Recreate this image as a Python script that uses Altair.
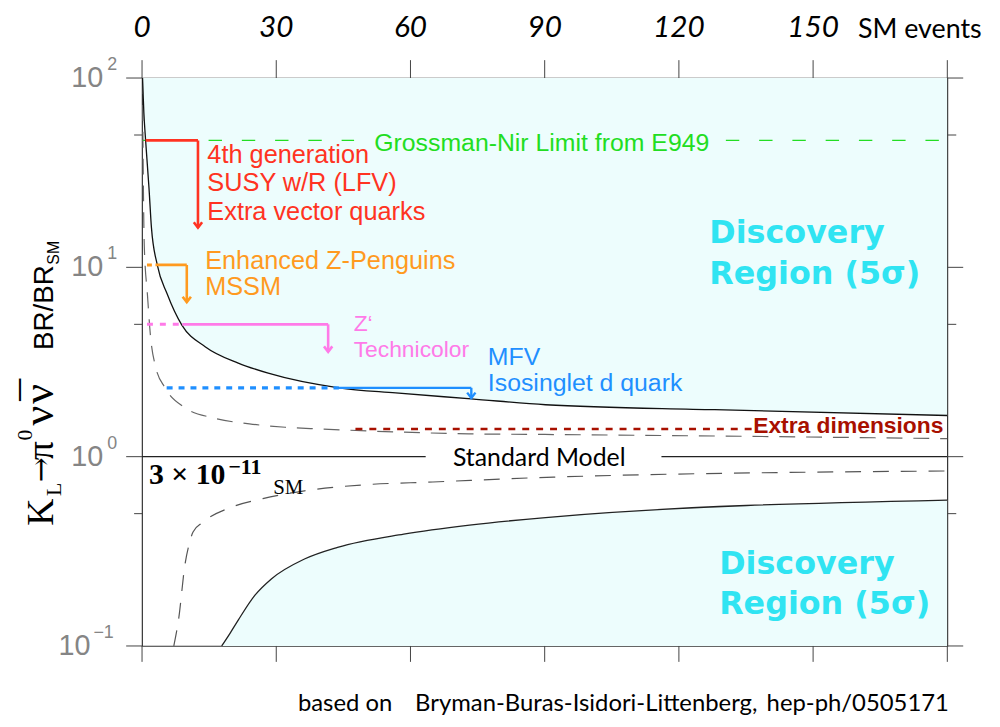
import altair as alt
import pandas as pd

# ---------------- data ----------------
# x: number of SM events, y: BR / BR_SM (log)
upper_n = [0.1, 0.4, 0.8, 1.55, 2.1, 3.4, 5.6, 8.9, 14.1, 21.5, 28.2, 44.0, 56.7, 73.6, 90.2, 128, 180]
upper_v = [100, 66, 46.7, 26.3, 16.2, 10.3, 7.25, 4.95, 3.81, 3.12, 2.76, 2.31, 2.17, 2.02, 1.88, 1.77, 1.65]

lower_n = [17.8, 19.7, 21.5, 25.2, 28.9, 36.3, 43.7, 58.5, 73.2, 90.2, 180]
lower_v = [0.1, 0.117, 0.137, 0.185, 0.226, 0.288, 0.332, 0.39, 0.435, 0.477, 0.59]

udash_n = [0.1, 0.25, 0.5, 1.2, 1.9, 3.0, 5.2, 9.5, 16, 24, 32, 40, 57, 73, 90, 122, 180]
udash_v = [100, 35, 13, 7.2, 4.3, 3.0, 2.3, 1.82, 1.6, 1.49, 1.43, 1.40, 1.35, 1.32, 1.31, 1.29, 1.245]

ldash_n = [7.1, 8.2, 9.6, 10.6, 11.4, 13.6, 19.9, 27.0, 36.3, 49.6, 65.0, 92.0, 180]
ldash_v = [0.1, 0.14, 0.27, 0.35, 0.40, 0.45, 0.54, 0.60, 0.66, 0.71, 0.735, 0.78, 0.84]

grossman_v = 46.8
grossman_segs = [[0, 47.4], [130.5, 180]]
red_v, red_n, red_tip = 46.8, [0.8, 12.5], 16.2
orange_v, orange_dash, orange_n, orange_tip = 10.3, [1.1, 2.2], [3.0, 10.0], 6.55
pink_v, pink_dash, pink_n, pink_tip = 5.0, [1.1, 9.0], [9.0, 41.6], 3.58
blue_v, blue_dash, blue_n, blue_tip = 2.31, [5.5, 44.0], [44.0, 73.6], 2.04
xdim_v, xdim_n = 1.40, [47.7, 136.5]
sm_v, sm_segs = 1.0, [[0, 63.4], [116.1, 180]]

x_ticks = [0, 30, 60, 90, 120, 150, 180]
x_labels = ["0", "30", "60", "90", "120", "150"]
y_major = [0.1, 1, 10, 100]
y_minor = [0.5, 5, 50]
y_exp = ["\u22121", "0", "1", "2"]

red_text = ["4th generation", "SUSY w/R (LFV)", "Extra vector quarks"]
red_text_v = [35.5, 25.3, 17.8]
orange_text = ["Enhanced Z-Penguins", "MSSM"]
orange_text_v = [9.84, 7.11]
pink_text = ["Z\u2018", "Technicolor"]
pink_text_v = [4.62, 3.37]
blue_text = ["MFV", "Isosinglet d quark"]
blue_text_v = [3.05, 2.21]
disc_text = ["Discovery", "Region (5\u03c3)"]
disc_up_v = [13.5, 8.21]
disc_lo_v = [0.2405, 0.1484]

# ---------------- helpers ----------------
W, H = 811, 572
xs = alt.Scale(domain=[0, 180], nice=False, zero=False)
ys = alt.Scale(type="log", domain=[0.1, 100], nice=False)
X = lambda f: alt.X(f, type="quantitative", scale=xs, axis=None)
Y = lambda f: alt.Y(f, type="quantitative", scale=ys, axis=None)
one = pd.DataFrame({"a": [0]})


def line(n, v, color, width=1.2, dash=None, interp="linear"):
    df = pd.DataFrame({"n": n, "v": v, "i": list(range(len(n)))})
    kw = dict(color=color, strokeWidth=width, clip=True, interpolate=interp)
    if dash:
        kw["strokeDash"] = dash
    return alt.Chart(df).mark_line(**kw).encode(x=X("n"), y=Y("v"), order="i:Q")


def hline(seg, v, color, width, dash=None):
    return line(seg, [v, v], color, width, dash)


def arrow(n, v_from, v_tip, color, width=2.6):
    shaft = line([n, n], [v_from, v_tip], color, width)
    head = alt.Chart(pd.DataFrame({"n": [n], "v": [v_tip]})).mark_point(
        shape="M -1 -1.3 L 0 0 L 1 -1.3", filled=False, stroke=color,
        strokeWidth=width, size=70, opacity=1
    ).encode(x=X("n"), y=Y("v"))
    return [shaft, head]


def dtext(lines, n, vals, color, size, font="Liberation Sans", weight="normal"):
    df = pd.DataFrame({"t": lines, "n": [n] * len(lines), "v": vals})
    return alt.Chart(df).mark_text(
        align="left", baseline="alphabetic", color=color, fontSize=size,
        font=font, fontWeight=weight
    ).encode(x=X("n"), y=Y("v"), text="t:N")


def ptext(t, x, y, size, font, color="black", angle=0, align="left",
          baseline="alphabetic", weight="normal", style="normal"):
    return alt.Chart(one).mark_text(
        text=t, fontSize=size, font=font, color=color, angle=angle, align=align,
        baseline=baseline, fontWeight=weight, fontStyle=style
    ).encode(x=alt.value(x), y=alt.value(y))


FILL = "#edfdfd"
layers = []

# discovery regions
up_df = pd.DataFrame({"n": upper_n, "v": upper_v, "top": [100] * len(upper_n)})
layers.append(alt.Chart(up_df).mark_area(color=FILL, opacity=1, clip=True, interpolate="monotone").encode(
    x=X("n"), y=Y("v"), y2="top:Q"))
lo_df = pd.DataFrame({"n": lower_n, "v": lower_v, "bot": [0.1] * len(lower_n)})
layers.append(alt.Chart(lo_df).mark_area(color=FILL, opacity=1, clip=True, interpolate="monotone").encode(
    x=X("n"), y=Y("v"), y2="bot:Q"))

# Grossman-Nir
for seg in grossman_segs:
    layers.append(hline(seg, grossman_v, "#22dd22", 1.3, [13.5, 20]))

# curves
layers.append(line(udash_n, udash_v, "#666666", 1.2, [16, 11], "monotone"))
layers.append(line(ldash_n, ldash_v, "#555555", 1.2, [16, 12], "monotone"))
layers.append(line(upper_n, upper_v, "#111111", 1.3, None, "monotone"))
layers.append(line(lower_n, lower_v, "#222222", 1.3, None, "monotone"))

# standard model line
for seg in sm_segs:
    layers.append(hline(seg, sm_v, "#222222", 1.2))

# extra dimensions
layers.append(hline(xdim_n, xdim_v, "#a81000", 2.6, [7, 7]))

# red
RED = "#ff3322"
layers.append(hline(red_n, red_v, RED, 2.8))
layers += arrow(red_n[1], red_v, red_tip, RED)
# orange
ORA = "#ff9a1f"
layers.append(hline(orange_dash, orange_v, ORA, 3, [5, 5]))
layers.append(hline(orange_n, orange_v, ORA, 2.8))
layers += arrow(orange_n[1], orange_v, orange_tip, ORA)
# pink
PIN = "#ff7ae8"
layers.append(hline(pink_dash, pink_v, PIN, 3, [6, 7]))
layers.append(hline(pink_n, pink_v, PIN, 2.8))
layers += arrow(pink_n[1], pink_v, pink_tip, PIN)
# blue
BLU = "#1f8fff"
layers.append(hline(blue_dash, blue_v, BLU, 3.2, [6, 6]))
layers.append(hline(blue_n, blue_v, BLU, 2.4))
layers += arrow(blue_n[1], blue_v, blue_tip, BLU, 2.4)

# annotation texts
layers.append(dtext(["Grossman-Nir Limit from E949"], 51.9, [41.4], "#22dd22", 25))
layers.append(dtext(red_text, 14.6, red_text_v, RED, 25.5))
layers.append(dtext(orange_text, 14.1, orange_text_v, ORA, 25.5))
layers.append(dtext(pink_text, 47.3, pink_text_v, PIN, 23))
layers.append(dtext(blue_text, 77.3, blue_text_v, BLU, 25))
layers.append(dtext(["Extra dimensions"], 136.6, [1.34], "#a81000", 23, weight="bold"))
layers.append(dtext(["Standard Model"], 69.5, [0.894], "black", 25, font="Lato"))
layers.append(dtext(disc_text, 126.8, disc_up_v, "#30e4f2", 32, font="DejaVu Sans", weight="bold"))
layers.append(dtext(disc_text, 129.0, disc_lo_v, "#30e4f2", 32, font="DejaVu Sans", weight="bold"))
layers.append(dtext(["3 \u00d7 10"], 1.55, [0.713], "black", 30, font="Liberation Serif", weight="bold"))
layers.append(dtext(["\u221211"], 19.3, [0.805], "black", 22, font="Liberation Serif", weight="bold"))
layers.append(dtext(["SM"], 29.3, [0.632], "black", 21, font="Liberation Serif"))

# ticks
TK = "#444444"
yM = pd.DataFrame({"v": y_major})
ym = pd.DataFrame({"v": y_minor})
xt = pd.DataFrame({"v": x_ticks})
layers.append(alt.Chart(yM).mark_rule(color=TK).encode(y=Y("v"), x=alt.value(-16), x2=alt.value(0)))
layers.append(alt.Chart(ym).mark_rule(color=TK).encode(y=Y("v"), x=alt.value(-8), x2=alt.value(0)))
layers.append(alt.Chart(yM).mark_rule(color=TK).encode(y=Y("v"), x=alt.value(W), x2=alt.value(W + 16)))
layers.append(alt.Chart(ym).mark_rule(color=TK).encode(y=Y("v"), x=alt.value(W), x2=alt.value(W + 9)))
layers.append(alt.Chart(xt).mark_rule(color=TK).encode(x=X("v"), y=alt.value(-18), y2=alt.value(0)))
layers.append(alt.Chart(xt).mark_rule(color=TK).encode(x=X("v"), y=alt.value(H), y2=alt.value(H + 16)))

# top labels
xl = pd.DataFrame({"v": x_ticks[:len(x_labels)], "t": x_labels})
layers.append(alt.Chart(xl).mark_text(font="Lato", fontStyle="italic", fontSize=30,
                                      baseline="alphabetic", align="center", color="black").encode(
    x=X("v"), y=alt.value(-41), text="t:N"))
layers.append(ptext("SM events", 721, -40, 27, "Lato"))

# left labels
yl = pd.DataFrame({"v": y_major, "e": y_exp})
GR = "#858585"
main = alt.Chart(yl).transform_filter("datum.v >= 1")
low = alt.Chart(yl).transform_filter("datum.v < 1")
layers.append(main.mark_text(text="10", font="Liberation Sans", fontSize=29, color=GR, align="right",
                             baseline="middle").encode(y=Y("v"), x=alt.value(-39)))
layers.append(main.mark_text(font="Liberation Sans", fontSize=18, color=GR, align="left",
                             baseline="middle", dy=-13).encode(y=Y("v"), x=alt.value(-35), text="e:N"))
layers.append(low.mark_text(text="10", font="Liberation Sans", fontSize=29, color=GR, align="right",
                            baseline="middle").encode(y=Y("v"), x=alt.value(-52)))
layers.append(low.mark_text(font="Liberation Sans", fontSize=18, color=GR, align="left",
                            baseline="middle", dy=-13).encode(y=Y("v"), x=alt.value(-49), text="e:N"))

# y title pieces (rotated)
SER = "Liberation Serif"
layers.append(ptext("K", -90, 451, 38, SER, angle=270))
layers.append(ptext("L", -82, 421, 22, SER, angle=270))
layers.append(ptext("\u2192", -92, 407, 30, "DejaVu Serif", angle=270))
layers.append(ptext("\u03c0", -90, 385, 38, SER, angle=270))
layers.append(ptext("0", -111, 365, 22, SER, angle=270))
layers.append(ptext("\u03bd", -90, 350, 44, SER, angle=270))
layers.append(ptext("\u03bd", -90, 328, 44, SER, angle=270))
layers.append(ptext("\u00af", -90, 325, 44, SER, angle=270))
layers.append(ptext("BR/BR", -90, 274, 28, "Liberation Sans", angle=270))
layers.append(ptext("SM", -84, 188, 16, "Liberation Sans", angle=270))

# bottom credit
layers.append(ptext("based on", 157, 637, 24, "Lato"))
layers.append(ptext("Bryman-Buras-Isidori-Littenberg,", 275, 637, 24, "Lato"))
layers.append(ptext("hep-ph/0505171", 629, 637, 24, "Lato"))

chart = alt.layer(*layers).properties(
    width=W, height=H,
    padding={"left": 135, "top": 68, "right": 45, "bottom": 68},
    autosize=alt.AutoSizeParams(type="none"),
).configure_view(stroke="#333333", strokeWidth=1.2)

chart.save("out.html", embed_options={"renderer": "svg", "actions": False})
